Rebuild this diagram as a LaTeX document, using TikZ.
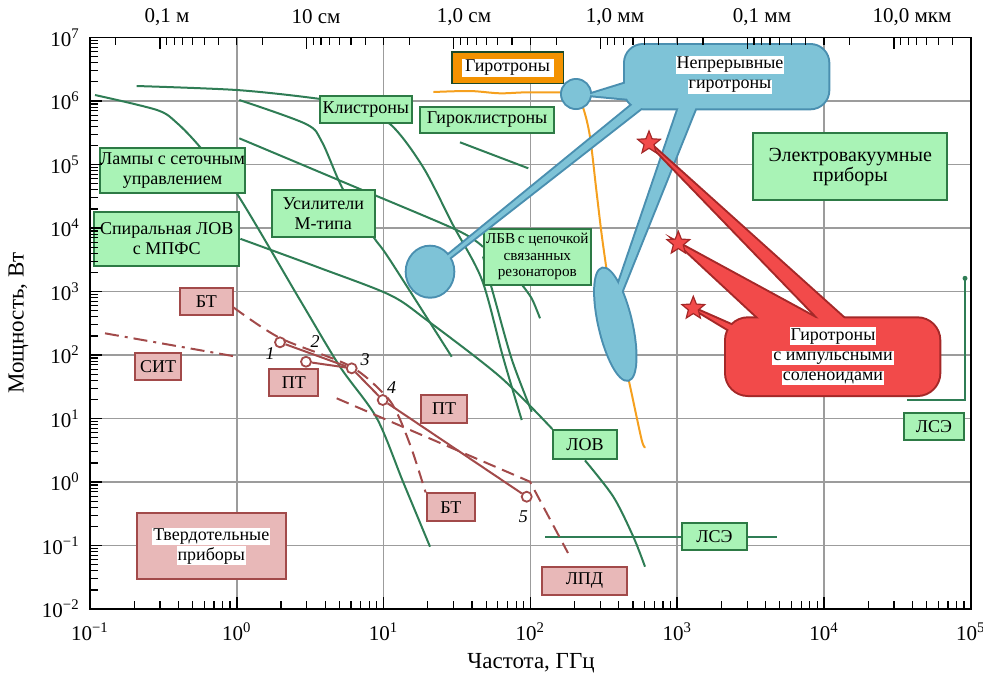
\documentclass[tikz,border=0pt]{standalone}
\usepackage{fontspec}
\setmainfont{Liberation Serif}
\usetikzlibrary{shapes.geometric}

\pgfdeclarelayer{back}
\pgfsetlayers{back,main}

\definecolor{gline}{HTML}{2F7D55}
\definecolor{gedge}{HTML}{2D7A45}
\definecolor{gfill}{HTML}{A9F3B6}
\definecolor{pline}{HTML}{A24A4A}
\definecolor{pfill}{HTML}{E8B8B8}
\definecolor{cwfill}{HTML}{7EC3D7}
\definecolor{cwedge}{HTML}{4A8FB0}
\definecolor{puls}{HTML}{F24A4A}
\definecolor{pulsedge}{HTML}{A42828}
\definecolor{orng}{HTML}{F5A01E}
\definecolor{gyrobg}{HTML}{F39200}
\definecolor{gridc}{HTML}{9C9C9C}

\newcommand{\wbg}[1]{{\setlength{\fboxsep}{0.5pt}\colorbox{white}{#1}}}

\tikzset{
  lbl/.style={font=\fontsize{9}{10}\selectfont, align=center, inner sep=0pt, line width=1pt},
  gbox/.style={lbl, draw=gedge, fill=gfill},
  pbox/.style={lbl, draw=pline, fill=pfill},
  gcurve/.style={draw=gline, line width=1pt},
  ocurve/.style={draw=orng, line width=1pt},
  pcurve/.style={draw=pline, line width=1pt},
  pdash/.style={pcurve, dash pattern=on 6.5pt off 3.5pt},
  pdashdot/.style={pcurve, dash pattern=on 7pt off 3pt on 1.5pt off 3pt},
  ptnode/.style={circle, draw=pline, fill=white, line width=0.9pt, minimum size=5pt, inner sep=0pt},
  ptlabel/.style={font=\fontsize{9}{10}\selectfont\itshape, inner sep=0.5pt},
  starnode/.style={star, star points=5, star point ratio=2.3, draw=pulsedge, fill=puls, line width=0.6pt, minimum size=12pt, inner sep=0pt},
  cwdraw/.style={draw=cwedge, line width=2pt},
  cwpaint/.style={fill=cwfill},
  rdraw/.style={draw=pulsedge, line width=2pt},
  rpaint/.style={fill=puls},
  tlabel/.style={font=\fontsize{10.5}{12}\selectfont, inner sep=1pt},
  atitle/.style={font=\fontsize{11.5}{13}\selectfont, inner sep=1pt},
}

\begin{document}
\begin{tikzpicture}[x=0.5pt, y=-0.5pt]
\useasboundingbox (0,0) rectangle (983,677);

% electron tubes
\node[gbox, minimum width=70.8pt, minimum height=22.2pt] (lamps) at (172.5,170.5) {Лампы с сеточным\\управлением};
\node[gbox, minimum width=51.7pt, minimum height=23.3pt] (mtype) at (323.3,213.3) {Усилители\\М-типа};
\node[gbox, minimum width=45.8pt, minimum height=13.7pt] (klys) at (365.8,109.7) {Клистроны};
\node[gbox, minimum width=67pt, minimum height=13pt] (gklys) at (487,119.7) {Гироклистроны};
\node[gbox, minimum width=72.7pt, minimum height=27.2pt] (spir) at (166.7,238.8) {Спиральная ЛОВ\\с МПФС};
\node[gbox, font=\fontsize{7.6}{8.4}\selectfont, minimum width=53.3pt, minimum height=28pt] (lbv) at (537.3,256.5) {ЛБВ\,с цепочкой\\связанных\\резонаторов};
\node[gbox, font=\fontsize{10}{10}\selectfont, minimum width=97pt, minimum height=33.3pt] (evac) at (850.3,166.7) {Электровакуумные\\приборы};
\node[gbox, minimum width=31.7pt, minimum height=14.7pt] (lov) at (585,444.7) {ЛОВ};
\node[gbox, minimum width=30pt, minimum height=13.7pt] (fel1) at (934,426.3) {ЛСЭ};
\node[gbox, minimum width=32.2pt, minimum height=13.7pt] (fel2) at (714.5,536.3) {ЛСЭ};
\node[draw=gedge!60!black, fill=gyrobg, line width=0.8pt, minimum width=55.8pt, minimum height=15.8pt, inner sep=0pt] (gyro) at (507.5,67.5) {};
\node[lbl, fill=white, minimum width=46pt, minimum height=9pt] (gyrotxt) at (gyro) {Гиротроны};

% solid state
\node[pbox, minimum width=26.3pt, minimum height=13.3pt] (bt1) at (206.3,301.7) {БТ};
\node[pbox, minimum width=23pt, minimum height=13.7pt] (sit) at (158,366.3) {СИТ};
\node[pbox, minimum width=24.5pt, minimum height=13.3pt] (pt1) at (293.8,382.7) {ПТ};
\node[pbox, minimum width=23.3pt, minimum height=13.8pt] (pt2) at (444,408.8) {ПТ};
\node[pbox, minimum width=24.2pt, minimum height=13.8pt] (bt2) at (450.8,507.2) {БТ};
\node[pbox, minimum width=42.2pt, minimum height=14.2pt] (lpd) at (584.5,580.8) {ЛПД};
\node[pbox, minimum width=74.7pt, minimum height=33pt] (solid) at (211.3,546.3) {\wbg{Твердотельные}\\\wbg{приборы}};

\node[ptnode] (p1) at (280,342.3) {};
\node[ptnode] (p2) at (306,361.7) {};
\node[ptnode] (p3) at (351.7,368.3) {};
\node[ptnode] (p4) at (382.7,400) {};
\node[ptnode] (p5) at (526.7,496.7) {};
\node[ptlabel] (n1) at (270,353.3) {1};
\node[ptlabel] (n2) at (315,341.7) {2};
\node[ptlabel] (n3) at (365,360) {3};
\node[ptlabel] (n4) at (391.7,387.3) {4};
\node[ptlabel] (n5) at (523.3,516.7) {5};

% continuous gyrotrons
\foreach \op in {cwdraw,cwpaint} {
  \path[\op, rounded corners=9pt] (625,45) rectangle (828.3,108.3);
  \path[\op] (630,82) -- (630,99) -- (588,95) -- cycle;
  \path[\op] (637,101) -- (645,105) -- (448,259) -- (446,257) -- cycle;
  \path[\op] (680,104) -- (697,104) -- (619.8,296) -- (614.5,296) -- cycle;
  \path[\op] (576,94) circle [radius=14];
  \path[\op] (430,271.7) ellipse [x radius=23.3, y radius=25];
  \path[\op] (615.3,324.2) ellipse [x radius=57, y radius=16, rotate=-77];
}
\node[lbl] (cwtext) at (730,75) {\wbg{Непрерывные}\\\wbg{гиротроны}};

% pulsed gyrotrons
\coordinate (s1) at (649,143);
\coordinate (s2) at (678.3,243.3);
\coordinate (s3) at (693.3,308.3);
\foreach \op in {rdraw,rpaint} {
  \path[\op, rounded corners=11pt] (726,318.3) rectangle (939.3,395);
  \path[\op] (s1) -- (822,322) -- (848,322) -- cycle;
  \path[\op] (s2) -- (763,322) -- (823,322) -- cycle;
  \path[\op] (s3) -- (738,328) -- (736,334) -- cycle;
}
\node[starnode] (star1) at (s1) {};
\node[starnode] (star2) at (s2) {};
\node[starnode] (star3) at (s3) {};
\node[lbl] (pulstext) at (833,356) {\wbg{Гиротроны}\\\wbg{с импульсными}\\\wbg{соленоидами}};

% axes
\draw[line width=0.75pt] (90,37.5) rectangle (970.8,609);
\foreach \dd in {0,...,5}
  \foreach \kk in {2,...,9}
    \draw[line width=0.6pt] ({90+146.8*(\dd+log10(\kk))},609) -- ++(0,-8);
\foreach \dd in {0,...,6}
  \draw[line width=0.75pt] ({90+146.8*\dd},609) -- ++(0,-12);
\foreach \dd in {0,...,8}
  \foreach \kk in {2,...,9}
    \draw[line width=0.6pt] (90,{609-63.5*(\dd+log10(\kk))}) -- ++(8,0);
\foreach \dd in {0,...,9}
  \draw[line width=0.75pt] (90,{609-63.5*\dd}) -- ++(12,0);
\begin{scope}
  \clip (91,30) rectangle (970,60);
  \foreach \mm in {0,...,6}
    \foreach \kk in {1,...,9} {
      \pgfmathsetmacro{\tx}{90+146.8*(1+log10(0.3)+\mm-log10(\kk))}
      \pgfmathsetmacro{\tl}{ifthenelse(\kk==1,11,7)}
      \draw[line width=0.6pt] (\tx,37.5) -- ++(0,\tl);
    }
\end{scope}

\foreach \dd/\ee in {0/−1,1/0,2/1,3/2,4/3,5/4,6/5}
  \node[tlabel, anchor=base] (xl\dd) at ({90+146.8*\dd},640) {10\textsuperscript{\ee}};
\foreach \dd/\ee in {0/−2,1/−1,2/0,3/1,4/2,5/3,6/4,7/5,8/6,9/7}
  \node[tlabel, anchor=east] (yl\dd) at (82,{609-63.5*\dd}) {10\textsuperscript{\ee}};

\node[tlabel] (w1) at (167,17) {0,1 м};
\node[tlabel] (w2) at (316,17) {10 см};
\node[tlabel] (w3) at (464,17) {1,0 см};
\node[tlabel] (w4) at (615,17) {1,0 мм};
\node[tlabel] (w5) at (762,17) {0,1 мм};
\node[tlabel] (w6) at (912,17) {10,0 мкм};

\node[atitle] (xt) at (531,663) {Частота, ГГц};
\node[atitle, rotate=90] (yt) at (18.5,323) {Мощность, Вт};

\begin{pgfonlayer}{back}
  % grid
  \foreach \dd in {1,...,5}
    \draw[gridc, line width=0.75pt] ({90+146.8*\dd},37.5) -- ({90+146.8*\dd},609);
  \foreach \dd in {1,...,8}
    \draw[gridc, line width=0.75pt] (90,{609-63.5*\dd}) -- (970.8,{609-63.5*\dd});

  % tube curves
  \draw[gcurve] plot[smooth] coordinates {(95,95) (157,110) (177,123) (200,147) (236.7,193.3) (300,300) (340,366.7) (376.7,418) (403,481.7) (430,546.7)};
  \draw[gcurve] plot[smooth] coordinates {(136.7,86) (236.7,90) (313,98) (350,105) (390,124) (423,167) (453,225) (482,280) (503,357) (521.7,420)};
  \draw[gcurve] plot[smooth, tension=0.5] coordinates {(239.3,100) (306,124) (322,142) (343.3,190) (373.3,236.7) (390,260) (451.7,356.7)};
  \draw[gcurve] plot[smooth] coordinates {(239.3,138.3) (348,184) (456.7,230) (lbv.170)};
  \draw[gcurve] plot[smooth] coordinates {(spir.east) (320,268) (390,295) (426.7,320) (500,376.7) (lov.north west)};
  \draw[gcurve] (460,142.3) -- (528.3,168.3);
  \draw[gcurve] plot[smooth] coordinates {(lbv.243) (532,299) (540,318.3)};
  \draw[gcurve] plot[smooth] coordinates {(lbv.west) (495,300) (512,360) (531.7,411.7)};
  \draw[gcurve] plot[smooth] coordinates {(lov.south) (613.3,496.7) (633.3,536.7) (645,566.7)};
  \draw[gcurve] (545,537.3) -- (776.7,537.3);
  \fill[gline] (965,278.3) circle [radius=2.5];
  \draw[gcurve] (965,278.3) -- (965,400) -- (906.7,400);

  % gyrotron curve
  \draw[ocurve] plot[smooth] coordinates {(433.3,92) (470,91) (500,93.3) (530,92.3) (576,94) (583.3,108.3) (590,136.7) (596.7,193.3) (603.3,246.7) (615,323) (628.3,378.3) (641.7,440) (645.5,447)};

  % solid state curves
  \draw[pdashdot] (105,333.3) -- (236.7,356.7);
  \draw[pdash] plot[smooth] coordinates {(bt1.-12) (280,338) (350,366) (385,395) (398,415) (412,450) (bt2.north west)};
  \draw[pdash] (336.7,398.3) -- (530,481.7) -- (568,553);
  \draw[pcurve] (p1) -- (p3);
  \draw[pcurve] (p2) -- (p3);
  \draw[pcurve] (p3) -- (p4) -- (p5);
\end{pgfonlayer}
\end{tikzpicture}
\end{document}
